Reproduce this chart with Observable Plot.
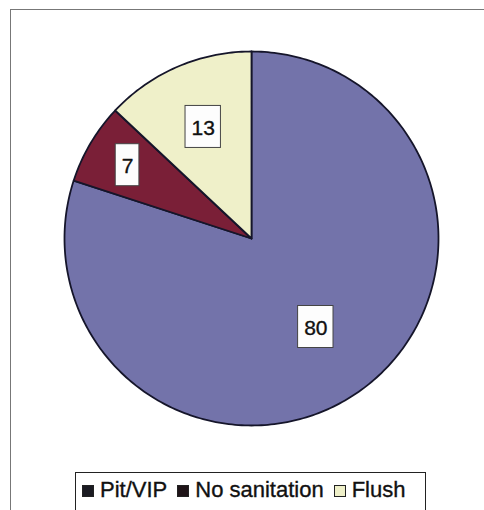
<!DOCTYPE html>
<html>
<head>
<meta charset="utf-8">
<script src="https://cdn.jsdelivr.net/npm/d3@7"></script>
<script src="https://cdn.jsdelivr.net/npm/@observablehq/plot@0.6"></script>
<style>
  html, body { margin: 0; padding: 0; background: #fff; }
  body { width: 484px; height: 510px; overflow: hidden; position: relative;
         font-family: "Liberation Sans", Arial, sans-serif; }
  #frame { position: absolute; left: 10px; top: 9px; width: 490px; height: 520px;
           border-left: 1.5px solid #777; border-top: 1.5px solid #777; box-sizing: border-box; }
  #chart { position: absolute; left: 0; top: 0; }
  #legend { position: absolute; left: 75px; top: 472px; width: 351px; height: 50px;
            border: 1.5px solid #222; border-bottom: none; box-sizing: border-box; }
  #legend .row { position: absolute; left: 6px; top: 4px; white-space: nowrap;
                 font-size: 22px; line-height: 26px; color: #111;
                 -webkit-text-stroke: 0.35px #111; }
  #legend .key { display: inline-block; width: 12px; height: 12px; box-sizing: border-box;
                 margin-right: 6px; }
  #legend .item { margin-right: 10px; }
</style>
</head>
<body>
<div id="frame"></div>
<div id="chart"></div>
<div id="legend"><div class="row"></div></div>
<script>
// Sanitation type shares (percent of households)
const categories = ["Pit/VIP", "No sanitation", "Flush"];
const shares = [80, 7, 13];
const sliceColors = ["#7373aa", "#7a1f37", "#eff0c9"];
const keyColors = ["#1b1b22", "#1f1418", "#eff0c9"];

// Distance of each value label from the centre, as a fraction of the radius
const labelRadius = [0.585, 0.77, 0.65];

const arcs = d3.pie().sort(null).value(d => d)(shares);

// Slice outlines: centre, arc sampled clockwise from 12 o'clock, back to centre
const slicePoints = [];
arcs.forEach((a, i) => {
  const cat = categories[i];
  slicePoints.push({cat, x: 0, y: 0});
  const steps = Math.max(8, Math.ceil((a.endAngle - a.startAngle) / (Math.PI / 180)));
  for (let k = 0; k <= steps; k++) {
    const t = a.startAngle + (a.endAngle - a.startAngle) * k / steps;
    slicePoints.push({cat, x: Math.sin(t), y: Math.cos(t)});
  }
  slicePoints.push({cat, x: 0, y: 0});
});

// Value labels in white boxes
const pxPerUnit = 187;
const labels = arcs.map((a, i) => {
  const mid = (a.startAngle + a.endAngle) / 2;
  const r = labelRadius[i];
  const text = String(shares[i]);
  const halfW = (text.length * 11.7 / 2 + 6) / pxPerUnit;
  const halfH = 21 / pxPerUnit;
  const x = Math.sin(mid) * r, y = Math.cos(mid) * r;
  return {text, x, y, x1: x - halfW, x2: x + halfW, y1: y - halfH, y2: y + halfH};
});

const chart = Plot.plot({
  width: 484,
  height: 470,
  marginLeft: 64,
  marginRight: 46,
  marginTop: 51,
  marginBottom: 45,
  x: {domain: [-1, 1], axis: null},
  y: {domain: [-1, 1], axis: null},
  color: {domain: categories, range: sliceColors},
  style: {background: "transparent", fontFamily: "Liberation Sans, Arial, sans-serif"},
  marks: [
    Plot.line(slicePoints, {
      x: "x", y: "y", z: "cat", fill: "cat",
      stroke: "#15152a", strokeWidth: 1.8, strokeLinejoin: "round", curve: "linear"
    }),
    Plot.rect(labels, {
      x1: "x1", x2: "x2", y1: "y1", y2: "y2",
      fill: "#fdfdfd", stroke: "#444", strokeWidth: 1
    }),
    Plot.text(labels, {
      x: "x", y: "y", text: "text",
      fontSize: 21, fill: "#111", stroke: "#111", strokeWidth: 0.35,
      textAnchor: "middle", dy: 1
    })
  ]
});
document.getElementById("chart").appendChild(chart);

// Legend row below the pie
const row = document.querySelector("#legend .row");
categories.forEach((c, i) => {
  const item = document.createElement("span");
  item.className = "item";
  const key = document.createElement("span");
  key.className = "key";
  key.style.background = keyColors[i];
  key.style.border = "1.5px solid #222";
  item.appendChild(key);
  item.appendChild(document.createTextNode(c));
  row.appendChild(item);
});
</script>
</body>
</html>
